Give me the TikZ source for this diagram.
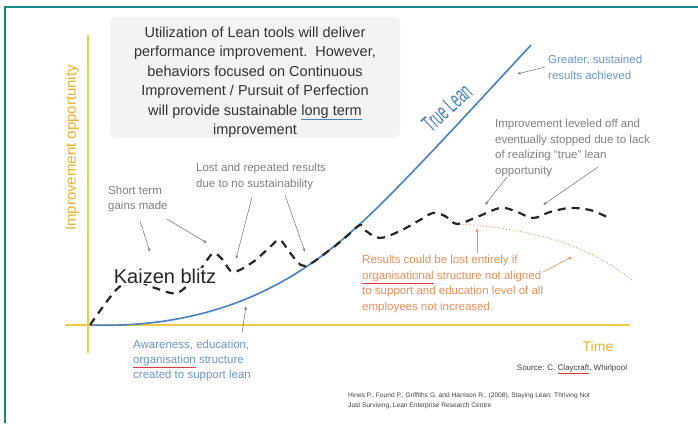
\documentclass[tikz,border=0pt]{standalone}
\usepackage{fontspec}
\setmainfont{Liberation Sans}
\usepackage{xcolor}
\usepackage{tikz}
\usetikzlibrary{arrows.meta, positioning}
\definecolor{framegreen}{RGB}{22,138,138}
\definecolor{axisyellow}{RGB}{247,202,70}
\definecolor{labelyellow}{RGB}{240,178,45}
\definecolor{leanblue}{RGB}{70,130,195}
\definecolor{noteblue}{RGB}{105,150,210}
\definecolor{notegray}{RGB}{128,128,128}
\definecolor{noteorange}{RGB}{240,140,85}
\definecolor{boxgray}{RGB}{243,243,243}
\definecolor{squigred}{RGB}{220,60,60}
\newcommand{\markline}[2]{\rlap{\color{#1}\underline{\phantom{#2}}}#2}

\begin{document}
\begin{tikzpicture}[x=1pt, y=-1pt,
		note/.style={anchor=north west, inner sep=0pt, align=left, font=\fontsize{11.5}{15.5}\selectfont},
		pointer/.style={notegray, line width=0.6pt, -{Latex[length=3.5pt,width=3pt]}}]
		\useasboundingbox (0,0) rectangle (698,423);
		\pgfmathsetmacro{\ox}{88}
		\pgfmathsetmacro{\oy}{325}
		\draw[framegreen, line width=1.2pt] (5,423) -- (5,7) -- (698,7);
		
		\fill[boxgray, rounded corners=6pt] (110,17) rectangle (400,138);
		\node[align=center, font=\fontsize{14.5}{19.5}\selectfont, text=black!80] (msg) at (255,82) {Utilization of Lean tools will deliver\\performance improvement.\ \ However,\\behaviors focused on Continuous\\Improvement / Pursuit of Perfection\\will provide sustainable \markline{leanblue}{long term}\\improvement};
		
		\draw[axisyellow, line width=2pt] (\ox,35) -- (\ox,353);
		\draw[axisyellow, line width=2pt] (65,\oy) -- (630,\oy);
		\node[rotate=90, text=labelyellow, font=\fontsize{15}{18}\selectfont] (ylab) at (72,148) {Improvement opportunity};
		\node[text=labelyellow, font=\fontsize{14}{17}\selectfont] (xlab) at (598,346) {Time};
		
		\draw[leanblue, line width=1.6pt] (90,325) .. controls (240,330) and (320,260) .. (360,224) .. controls (400,188) and (491,88) .. (531,45);
		\node[rotate=43, text=leanblue, xscale=0.8, yscale=1.5, font=\fontsize{16}{18}\selectfont] (truelean) at (447,108) {True Lean};
		
		\draw[noteorange, line width=0.9pt, dotted] (457,224) .. controls (530,228) and (590,245) .. (633,281);
		
		\draw[black!85, line width=2.2pt, dash pattern=on 8pt off 6pt] plot[smooth, tension=0.55] coordinates {(90,325) (117,289) (135,281) (155,288) (177,293) (195,277) (207,260) (214,253) (223,260) (233,272) (253,262) (270,247) (280,240) (291,254) (305,266) (331,249) (347,236) (360,225) (366,231) (380,238) (400,231) (420,220) (433,213) (445,216) (457,224) (477,217) (500,208) (515,211) (533,218) (550,212) (570,208) (590,210) (607,217)};
		\node[fill=white, inner sep=1pt, text=black!85, font=\fontsize{20}{22}\selectfont] (kaizen) at (165,276) {Kaizen blitz};
		
		\node[note, text=notegray, font=\fontsize{11.5}{14.5}\selectfont] (short) at (108,186) {Short term\\gains made};
		\coordinate (s1a) at (140,221);
		\coordinate (s1b) at (150,252);
		\coordinate (s2a) at (167,219);
		\coordinate (s2b) at (207,243);
		\draw[pointer] (s1a) -- (s1b);
		\draw[pointer] (s2a) -- (s2b);
		
		\node[note, text=notegray] (lost) at (196,163) {Lost and repeated results\\due to no sustainability};
		\coordinate (l1a) at (252,197);
		\coordinate (l1b) at (236,259);
		\coordinate (l2a) at (285,195);
		\coordinate (l2b) at (305,252);
		\draw[pointer] (l1a) -- (l1b);
		\draw[pointer] (l2a) -- (l2b);
		
		\node[note, text=notegray] (level) at (495,119) {Improvement leveled off and\\eventually stopped due to lack\\of realizing “true” lean\\opportunity};
		\coordinate (v1a) at (507,177);
		\coordinate (v1b) at (485,205);
		\coordinate (v2a) at (598,167);
		\coordinate (v2b) at (543,205);
		\draw[pointer] (v1a) -- (v1b);
		\draw[pointer] (v2a) -- (v2b);
		
		\node[note, text=noteblue, font=\fontsize{11.5}{16}\selectfont] (greater) at (548,55) {Greater, sustained\\results achieved};
		\coordinate (g1a) at (545,67);
		\coordinate (g1b) at (517,74);
		\draw[pointer] (g1a) -- (g1b);
		
		\node[note, text=noteblue, font=\fontsize{11.5}{15}\selectfont] (aware) at (133,340) {Awareness, education,\\\markline{squigred}{organisation} structure\\created to support lean};
		\coordinate (a1a) at (242,333);
		\coordinate (a1b) at (246,306);
		\draw[pointer] (a1a) -- (a1b);
		
		\node[note, text=noteorange] (lost2) at (362,255) {Results could be lost entirely if\\\markline{squigred}{organisational} structure not aligned\\to support and education level of all\\employees not increased.};
		\coordinate (o1a) at (477,253);
		\coordinate (o1b) at (477,228);
		\coordinate (o2a) at (543,272);
		\coordinate (o2b) at (572,257);
		\draw[pointer, noteorange] (o1a) -- (o1b);
		\draw[pointer, noteorange] (o2a) -- (o2b);
		
		\node[text=black!75, font=\fontsize{8}{10}\selectfont] (source) at (572,369) {Source: C. \markline{squigred}{Claycraft}, Whirlpool};
		\node[note, text=black!75, font=\fontsize{6.6}{9.5}\selectfont] (cite) at (348,393) {Hines P., Found P., Griffiths G. and Harrison R., (2008), Staying Lean: Thriving Not\\Just Surviving, Lean Enterprise Research Centre};
\end{tikzpicture}
\end{document}
